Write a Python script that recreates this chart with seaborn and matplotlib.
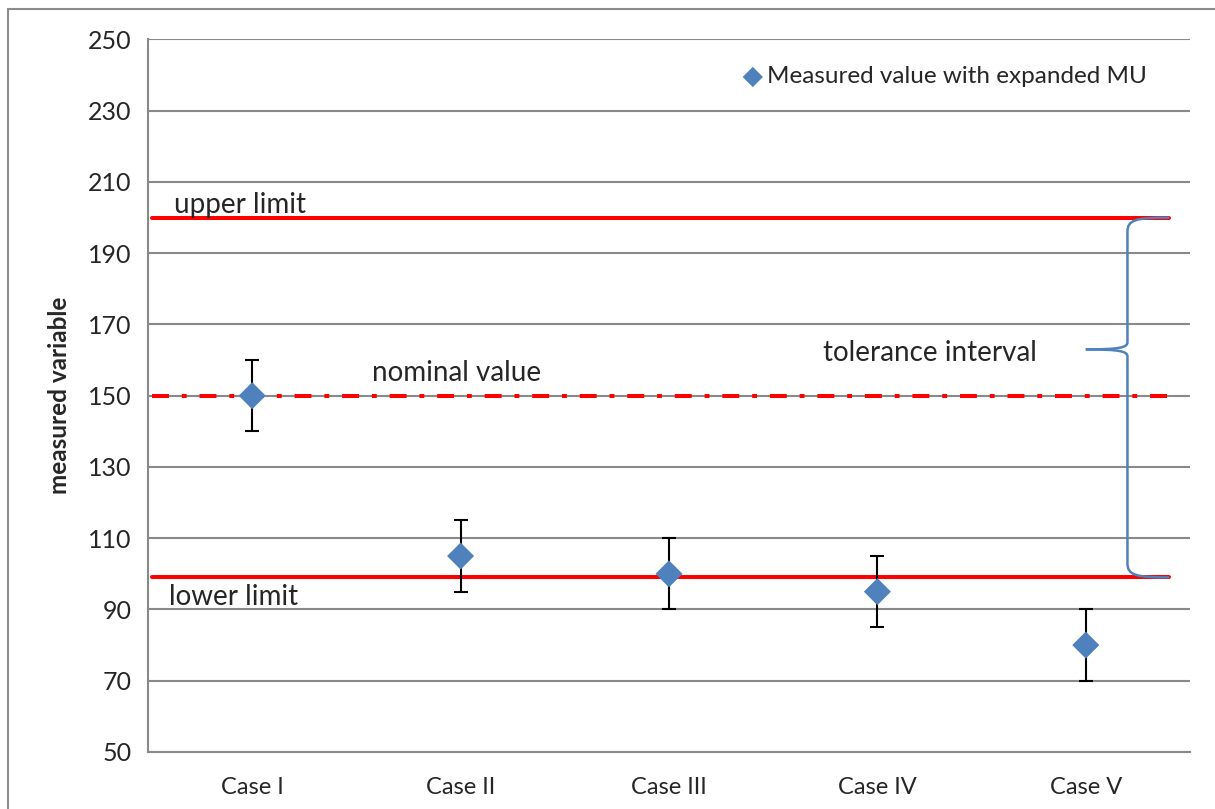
import matplotlib
matplotlib.use("Agg")
import matplotlib.pyplot as plt
import seaborn as sns
import numpy as np
import pandas as pd
from matplotlib.path import Path
from matplotlib.patches import PathPatch, Rectangle

# data
cases = ['Case I', 'Case II', 'Case III', 'Case IV', 'Case V']
measured = [150, 105, 100, 95, 80]
mu = [10, 10, 10, 10, 10]
upper_limit = 200
lower_limit = 99
nominal = 150
y_ticks = [50, 70, 90, 110, 130, 150, 170, 190, 210, 230, 250]

df = pd.DataFrame({'case': cases, 'value': measured, 'mu': mu})

sns.set_style('white')
plt.rcParams['font.family'] = ['Lato', 'DejaVu Sans']

fig = plt.figure(figsize=(12.15, 8.09), dpi=100)
ax = fig.add_axes([0.1218, 0.0705, 0.8576, 0.8807])

blue = '#4F81BD'
grid_c = '#898989'

# limits + nominal line
xl, xr = -0.48, 4.40
ax.plot([xl, xr], [upper_limit, upper_limit], color='#FF0000', lw=2.9, zorder=3)
ax.plot([xl, xr], [lower_limit, lower_limit], color='#FF0000', lw=2.9, zorder=3)
ax.plot([xl, 4.41], [nominal, nominal], color='#FF0000', lw=2.9, zorder=3,
        dashes=(4.2, 3.2, 1.2, 3.2))

# error bars + markers
ax.errorbar(df['case'], df['value'], yerr=df['mu'], fmt='none', ecolor='black',
            elinewidth=1.5, capsize=5, capthick=1.5, zorder=4)
sns.scatterplot(data=df, x='case', y='value', marker='D', s=190, color=blue,
                edgecolor='none', ax=ax, zorder=5, label='Measured value with expanded MU')

# brace for the tolerance interval
bx = 4.20
tip_y = 163
top, bot = upper_limit, lower_limit
codes = [Path.MOVETO, Path.CURVE4, Path.CURVE4, Path.CURVE4,
         Path.LINETO, Path.CURVE4, Path.CURVE4, Path.CURVE4]
verts = [
    (4.40, top), (4.24, top), (bx, top - 0.6), (bx, top - 4),
    (bx, tip_y + 2), (bx, tip_y + 0.5), (4.16, tip_y), (4.00, tip_y),
]
ax.add_patch(PathPatch(Path(verts, codes), fc='none', ec=blue, lw=1.8, zorder=4))
verts2 = [
    (4.00, tip_y), (4.16, tip_y), (bx, tip_y - 0.5), (bx, tip_y - 2),
    (bx, bot + 4), (bx, bot + 0.6), (4.24, bot), (4.40, bot),
]
ax.add_patch(PathPatch(Path(verts2, codes), fc='none', ec=blue, lw=1.8, zorder=4))

# text labels
fs = 20
ax.text(-0.375, 203.5, 'upper limit', fontsize=fs, ha='left', va='center')
ax.text(0.575, 156.5, 'nominal value', fontsize=fs, ha='left', va='center')
ax.text(-0.40, 93.5, 'lower limit', fontsize=fs, ha='left', va='center')
ax.text(2.74, 162, 'tolerance interval', fontsize=fs, ha='left', va='center')

# axes styling
ax.set_xlim(-0.5, 4.5)
ax.set_ylim(50, 250)
ax.set_yticks(y_ticks)
ax.set_yticklabels([str(t) for t in y_ticks], fontsize=18)
ax.yaxis.grid(True, color=grid_c, lw=1.5)
ax.set_axisbelow(True)
ax.set_xticks(range(len(cases)))
ax.set_xticklabels(cases, fontsize=17)
ax.set_xticks(np.arange(-0.5, 5.0, 1.0), minor=True)
ax.tick_params(axis='x', which='major', length=0, pad=18)
ax.tick_params(axis='x', which='minor', length=6, width=1.5, color=grid_c, direction='out')
ax.tick_params(axis='y', length=6, width=1.5, color=grid_c, direction='out', pad=6)
for s in ['top', 'right']:
    ax.spines[s].set_visible(False)
for s in ['left', 'bottom']:
    ax.spines[s].set_color(grid_c)
    ax.spines[s].set_linewidth(1.5)
ax.set_xlabel('')
ax.set_ylabel('measured variable', fontsize=17.5, fontweight='bold', labelpad=12)

leg = ax.legend(loc='upper right', bbox_to_anchor=(0.98, 0.993), frameon=False,
                fontsize=17.5, handletextpad=0.0, markerscale=0.75,
                handlelength=1.2)

# outer frame
fig.patches.append(Rectangle((8 / 1215, -0.1), 1.2, 1 - 9 / 809 + 0.1,
                             transform=fig.transFigure, fill=False,
                             ec='#8c8c8c', lw=1.5))

fig.savefig('out.png', dpi=100)
